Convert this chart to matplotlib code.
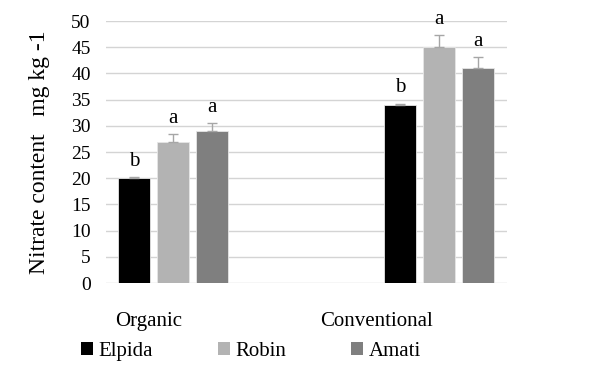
import matplotlib
matplotlib.use("Agg")
import matplotlib.pyplot as plt
import numpy as np
from matplotlib.patches import Patch

categories = ["Organic", "Conventional"]
varieties = ["Elpida", "Robin", "Amati"]
values = {
    "Elpida": [20.0, 34.0],
    "Robin": [27.0, 45.0],
    "Amati": [29.0, 41.0],
}
errors = {
    "Elpida": [0.15, 0.25],
    "Robin": [1.5, 2.4],
    "Amati": [1.5, 2.2],
}
letters = {
    "Elpida": ["b", "b"],
    "Robin": ["a", "a"],
    "Amati": ["a", "a"],
}
colors = {"Elpida": "#000000", "Robin": "#b3b3b3", "Amati": "#7f7f7f"}
yticks = [0, 5, 10, 15, 20, 25, 30, 35, 40, 45, 50]

plt.rcParams["font.family"] = ["Liberation Serif", "DejaVu Serif"]

fig = plt.figure(figsize=(6.09, 3.83), dpi=100)
ax = fig.add_axes([0.174, 0.261, 0.6585, 0.684])

x = np.arange(len(categories))
width = 0.12
step = 0.147
for i, v in enumerate(varieties):
    pos = x + (i - 1) * step
    ax.bar(pos, values[v], width, color=colors[v], zorder=3,
           edgecolor="#e6e6e6", linewidth=0.6)
    ax.errorbar(pos, values[v], yerr=[np.zeros(len(x)), errors[v]], fmt="none",
                ecolor="#a6a6a6", elinewidth=1.0, capsize=3.6, capthick=1.0, zorder=4)
    for p, val, e, l in zip(pos, values[v], errors[v], letters[v]):
        ax.annotate(l, (p, val + e), xytext=(0, 8), textcoords="offset points",
                    ha="center", va="baseline", fontsize=15)

ax.set_xlim(-0.252, 1.256)
ax.set_ylim(0, 50)
ax.set_yticks(yticks)
# category labels sit left of the bar groups in the reference
ax.set_xticks(x + np.array([-0.09, -0.233]))
ax.set_xticklabels(categories, fontsize=15)
ax.tick_params(axis="x", length=0, pad=21)
ax.tick_params(axis="y", length=0, pad=11, labelsize=14)
ax.yaxis.grid(True, color="#d4d4d4", linewidth=1.0, zorder=0)
ax.set_axisbelow(True)
for s in ax.spines.values():
    s.set_visible(False)
ax.set_ylabel("Nitrate content   mg kg -1", fontsize=17, labelpad=15)

handles = [Patch(facecolor=colors[v], edgecolor="none", label=v) for v in varieties]
fig.legend(handles=handles, loc="center", bbox_to_anchor=(0.412, 0.082), ncol=3,
           frameon=False, fontsize=15, handlelength=0.6, handleheight=0.6,
           handletextpad=0.25, columnspacing=3.1)

fig.savefig("out.png", dpi=100)
